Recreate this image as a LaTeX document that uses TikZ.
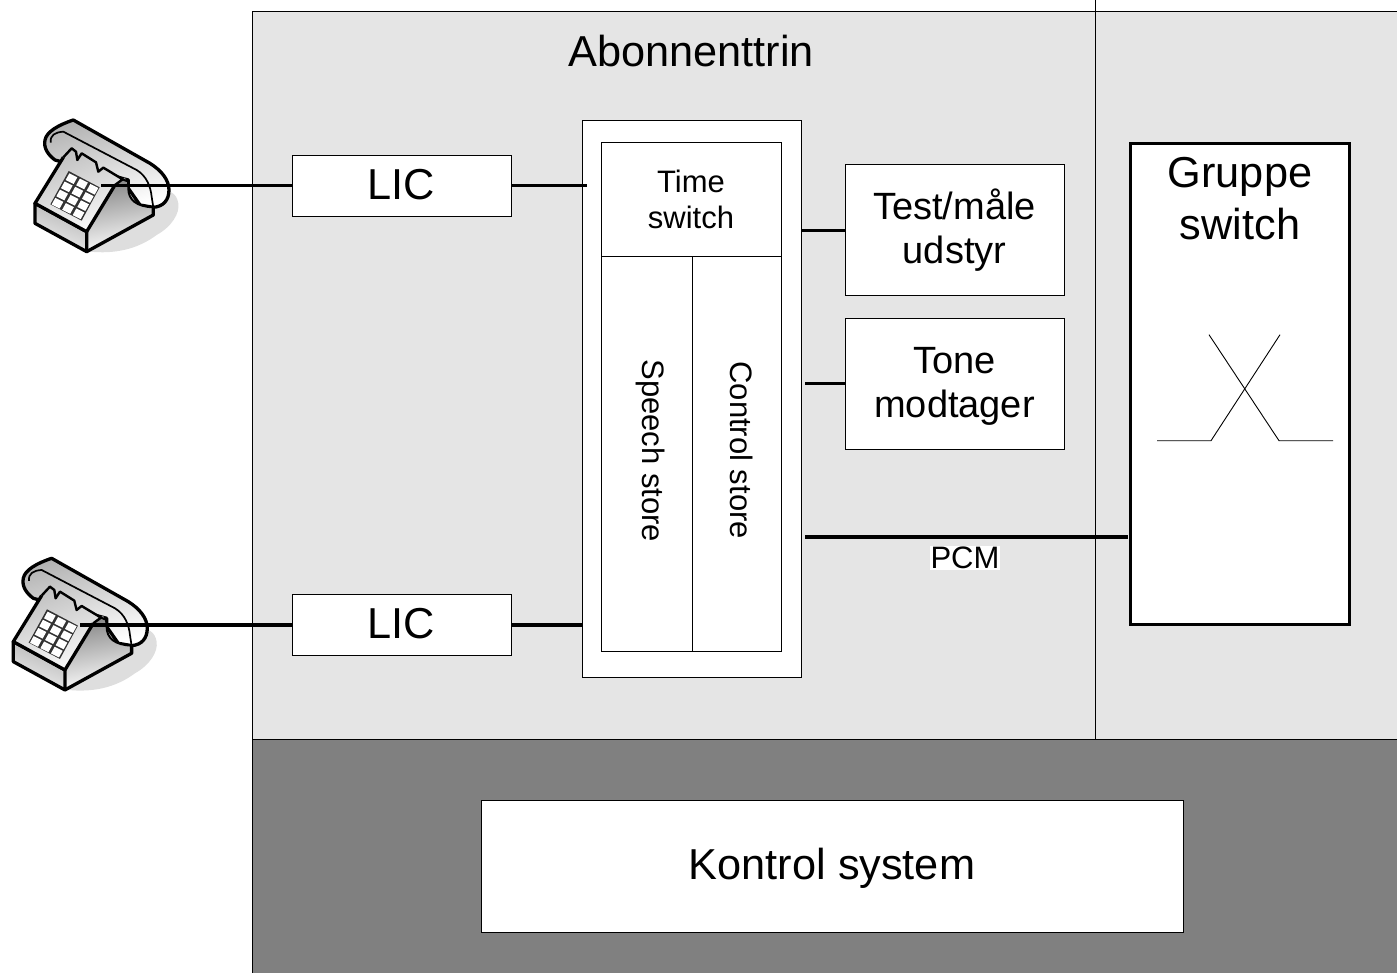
\documentclass[tikz,border=0pt]{standalone}
\usepackage{fontspec}
\setmainfont{Liberation Sans}
\newcommand{\fsL}{\fontsize{43.3}{45}\selectfont}
\newcommand{\fsM}{\fontsize{38}{45}\selectfont}
\newcommand{\fsS}{\fontsize{31}{36}\selectfont}
\tikzset{
  x=1pt,y=-1pt,
  thinbox/.style={draw=black,line width=0.9pt,fill=white,inner sep=0pt,align=center},
  label text/.style={inner sep=0pt,align=center},
  wire/.style={draw=black,line width=3.2pt},
  hair/.style={draw=black,line width=0.9pt},
  phoneline/.style={draw=black,line width=3.3pt,line join=round},
  phone/.pic={
    \begin{scope}[x=0.3333pt,y=-0.3333pt]
      % shadow
      \fill[black!13] (270,455) .. controls (340,462) and (410,450) .. (470,405)
        .. controls (515,380) and (540,340) .. (535,310) .. controls (530,280) and (510,270) .. (480,270) -- (300,300) -- cycle;
      % handset
      \path[phoneline,left color=black!30,middle color=black!6,right color=white,shading angle=15]
        (165,180) .. controls (145,165) and (130,145) .. (135,120) .. controls (140,95) and (175,75) .. (220,60)
        -- (450,190) .. controls (485,212) and (507,240) .. (507,270) .. controls (507,300) and (490,320) .. (460,322)
        -- (420,315) -- (385,265) -- (385,240) -- cycle;
      \draw[black,line width=1.7pt] (152,128) .. controls (150,105) and (165,97) .. (190,95) -- (410,210) .. controls (440,228) and (452,260) .. (455,290) -- (460,322);
      % right side of the body
      \path[left color=black!48,right color=white,shading angle=10]
        (260,395) -- (345,252) -- (375,232) -- (385,265) .. controls (385,300) and (410,320) .. (460,322) -- (460,345) -- (260,455) -- cycle;
      % front of the base
      \path[phoneline,left color=black!30,right color=black!6,shading angle=-20]
        (105,310) -- (260,395) -- (260,455) -- (105,370) -- cycle;
      \draw[phoneline] (260,455) -- (460,345) -- (460,322);
      % keypad face
      \path[left color=black!25,right color=black!2,shading angle=20]
        (105,310) -- (190,172) -- (215,145) -- (228,155) -- (232,180) -- (245,160) -- (288,187) -- (295,215) -- (310,203) -- (368,238) -- (345,255) -- (260,395) -- cycle;
      \draw[phoneline] (260,395) -- (105,310) -- (190,172);
      \draw[phoneline] (345,255) -- (260,395);
      \draw[black,line width=2.4pt,line join=round] (190,172) -- (215,145) -- (228,155) -- (232,180) -- (245,160) -- (288,187) -- (295,215) -- (310,203) -- (368,238) -- (345,255);
      % ear cup edge
      \draw[black,line width=2pt,line join=round] (368,238) -- (385,245) -- (385,265) .. controls (385,300) and (410,320) .. (460,322);
      % keys
      \fill[black!80] (206,213) -- (299,262) -- (245,362) -- (151,313) -- cycle;
      \foreach \r in {0,1,2,3}{\foreach \c in {0,1,2}{
        \fill[white,shift={({208+\c*31.5-\r*14},{220+\c*16+\r*24.5})}]
          (0,0) -- (24,12) -- (13,32) -- (-11,20) -- cycle;
      }}
    \end{scope}
  }
}
\begin{document}
\begin{tikzpicture}
\useasboundingbox (0,0.3) rectangle (1397,972.3);
% panels
\path[fill=black!10,draw=black,line width=0.8pt] (252.5,12) rectangle (1400,740);
\path[fill=black!50,draw=black,line width=0.8pt] (252.5,740) rectangle (1400,975);
\coordinate (divtop) at (1095.5,0);
\coordinate (divbot) at (1095.5,740);
\draw[hair] (divtop) -- (divbot);
\node[font=\fsL,label text] (title) at (691,51.5) {Abonnenttrin};
% phones
\pic at (0,100.3) {phone};
\pic at (-21.7,538.6) {phone};
\coordinate (ph1) at (101,185.8);
\coordinate (ph2) at (80,625.3);
% LIC
\node[thinbox,minimum width=219pt,minimum height=61pt] (lic1) at (401.5,186.5) {};
\node[font=\fsL,label text] (lic1t) at (lic1.center) [yshift=2pt] {LIC};
\node[thinbox,minimum width=219pt,minimum height=61pt] (lic2) at (401.5,625.5) {};
\node[font=\fsL,label text] (lic2t) at (lic2.center) [yshift=2pt] {LIC};
% switch unit
\node[thinbox,minimum width=219pt,minimum height=557pt] (unit) at (691.5,399.5) {};
\node[thinbox,minimum width=180pt,minimum height=508.5pt] (inner) at (691,397.3) {};
\node[font=\fsS,label text] (ts) at (691,200) {Time\\switch};
\coordinate (hl) at (601,257); \coordinate (hr) at (781,257);
\coordinate (vt) at (692,257); \coordinate (vb) at (692,651);
\draw[hair] (hl) -- (hr);
\draw[hair] (vt) -- (vb);
\node[font=\fsS,rotate=-90,inner sep=0pt] (speech) at (650.5,451) {Speech store};
\node[font=\fsS,rotate=-90,inner sep=0pt] (control) at (742,450.5) {Control store};
% right boxes
\node[thinbox,minimum width=219pt,minimum height=131pt] (test) at (954.5,230.5) {};
\node[font=\fsM,label text] (testt) at (954.5,230.5) {Test/måle\\[-0.5pt]udstyr};
\node[thinbox,minimum width=219pt,minimum height=131pt] (tone) at (954.5,384) {};
\node[font=\fsM,label text] (tonet) at (954.5,387) {Tone\\[-1pt]modtager};
% gruppe switch
\node[draw=black,line width=3pt,fill=white,minimum width=219pt,minimum height=481pt,inner sep=0pt] (gs) at (1240,384.5) {};
\node[font=\fsL,label text] (gst) at (1240,199) {Gruppe\\[7pt]switch};
\coordinate (xa) at (1157,441); \coordinate (xb) at (1211,441); \coordinate (xc) at (1280,335);
\coordinate (xd) at (1209,335); \coordinate (xe) at (1279,441); \coordinate (xf) at (1333,441);
\draw[hair] (xa) -- (xb) -- (xc);
\draw[hair] (xd) -- (xe) -- (xf);
% wires
\coordinate (tsin) at (587,185.8);
\coordinate (pcmout) at (805,537.3);
\coordinate (pcmin) at (1128,537.3);
\coordinate (tonein) at (805,384);
\draw[wire] (ph1) -- (lic1.west |- ph1);
\draw[wire] (lic1.east |- tsin) -- (tsin);
\draw[wire] (ph2) -- (lic2.west |- ph2);
\draw[wire] (lic2.east |- ph2) -- (unit.west |- ph2);
\draw[wire] (unit.east |- test.west) -- (test.west);
\draw[wire] (tonein) -- (tone.west);
\draw[wire] (pcmout) -- (pcmin);
\node[fill=white,font=\fsS,inner sep=1pt] (pcm) at (965,558) {PCM};
% control
\node[thinbox,minimum width=702pt,minimum height=132pt] (ctl) at (832,867) {};
\node[font=\fsL,label text] (ctlt) at (832,869) {Kontrol system};
\end{tikzpicture}
\end{document}
